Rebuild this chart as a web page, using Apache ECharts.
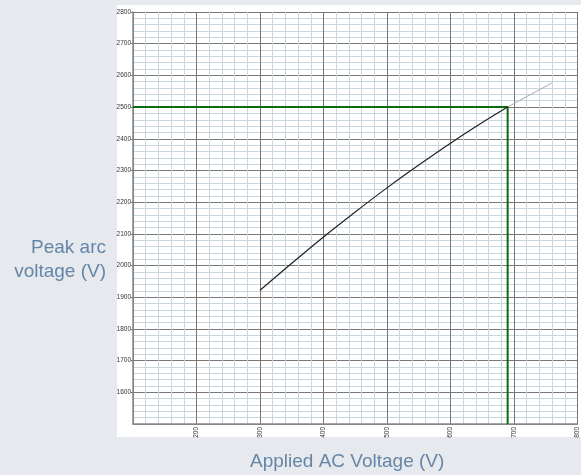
<!DOCTYPE html>
<html>
<head>
<meta charset="utf-8">
<script src="https://cdn.jsdelivr.net/npm/echarts@6/dist/echarts.min.js"></script>
<style>
  html, body { margin: 0; padding: 0; background: #e6e9ee; }
  #chart { width: 581px; height: 475px; }
</style>
</head>
<body>
<div id="chart"></div>
<script>
// curve: applied AC voltage -> peak arc voltage
const curveX = [300, 350, 400, 450, 500, 550, 600, 650, 690];
const curveY = [1922, 2007, 2090, 2169, 2245, 2317, 2386, 2451, 2500];
// faint extrapolated part past the 2500 V point
const extX = [690, 720, 760];
const extY = [2500, 2533, 2576];
// green reading lines
const markX = [100, 690, 690];
const markY = [2500, 2500, 1500];

const xTicks = [100, 800, 100];   // min, max, step
const yTicks = [1500, 2800, 100];

const zip = (a, b) => a.map((v, i) => [v, b[i]]);

const chart = echarts.init(document.getElementById('chart'));

const font = 'Liberation Sans, Arial, sans-serif';
const labelFont = { fontSize: 6.5, color: '#333', fontFamily: font, formatter: v => String(v) };
const nameColor = '#6586a7';

const option = {
  backgroundColor: '#e6e9ee',
  animation: false,
  graphic: [
    { type: 'rect', z: -10, shape: { x: 117, y: 5, width: 470, height: 432 }, style: { fill: '#fff' } },
    { type: 'text', left: 250, top: 452, style: { text: 'Applied AC Voltage (V)', fontSize: 19, fill: nameColor, fontFamily: font } },
    { type: 'text', x: 106, y: 236, style: { text: 'Peak arc\nvoltage (V)', fontSize: 19, lineHeight: 24, align: 'right', fill: nameColor, fontFamily: font } }
  ],
  grid: { left: 133, right: 3, top: 12, bottom: 51 },
  xAxis: {
    type: 'value', min: xTicks[0], max: xTicks[1], interval: xTicks[2],
    axisLine: { lineStyle: { color: '#8a8a8a', width: 1.5 } },
    axisTick: { show: false },
    axisLabel: Object.assign({ rotate: 90, margin: 3, showMinLabel: false }, labelFont),
    splitLine: { show: true, lineStyle: { color: '#777', width: 1 } },
    minorTick: { show: false, splitNumber: 5 },
    minorSplitLine: { show: true, lineStyle: { color: '#cad6de', width: 1 } }
  },
  yAxis: {
    type: 'value', min: yTicks[0], max: yTicks[1], interval: yTicks[2],
    axisLine: { show: true, lineStyle: { color: '#8a8a8a', width: 1.5 } },
    axisTick: { show: true, length: 2, lineStyle: { color: '#777' } },
    axisLabel: Object.assign({ margin: 2, showMinLabel: false }, labelFont),
    splitLine: { show: true, lineStyle: { color: '#777', width: 1 } },
    minorTick: { show: false, splitNumber: 5 },
    minorSplitLine: { show: true, lineStyle: { color: '#cad6de', width: 1 } }
  },
  series: [
    {
      type: 'line', data: zip(extX, extY), smooth: true, showSymbol: false,
      lineStyle: { color: '#a8a8a8', width: 1 }, z: 3
    },
    {
      type: 'line', data: zip(markX, markY), showSymbol: false,
      lineStyle: { color: '#0b6a12', width: 2 }, z: 4
    },
    {
      type: 'line', data: zip(curveX, curveY), smooth: 0.4, showSymbol: false,
      lineStyle: { color: '#222', width: 1.2 }, z: 5
    }
  ]
};

chart.setOption(option);
</script>
</body>
</html>
